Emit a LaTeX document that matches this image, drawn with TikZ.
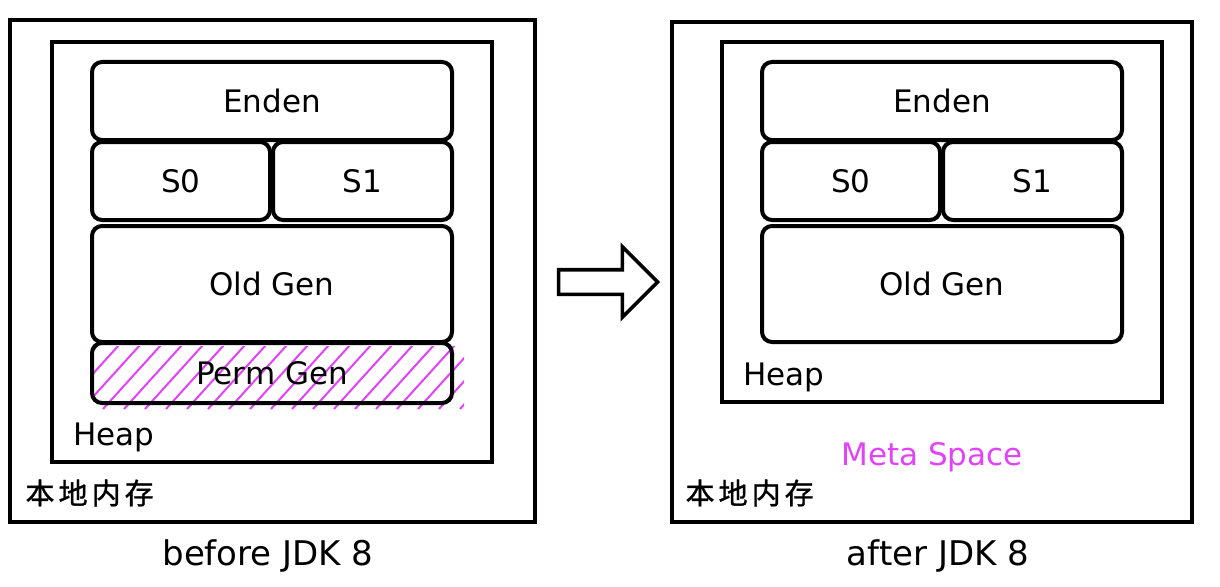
\documentclass[tikz,border=0pt]{standalone}
\usepackage{fontspec}
\setmainfont{DejaVu Sans}
\newfontfamily\cjk[LetterSpace=14, FakeBold=1.2]{Noto Sans CJK SC}
\usepackage{tikz}
\usetikzlibrary{arrows.meta, positioning, shapes.arrows}
\definecolor{metapink}{RGB}{226,66,250}
\tikzstyle{memory} = [rectangle, draw=black, line width=3.6pt, inner sep=0pt]
\tikzstyle{heap} = [rectangle, draw=black, line width=3.2pt, inner sep=0pt]
\tikzstyle{block} = [rectangle, rounded corners=10pt, draw=black, line width=4pt, inner sep=0pt, text centered]
\tikzstyle{hatch} = [metapink, line width=2pt]
\tikzstyle{caption} = [font={\fontsize{34pt}{38pt}\selectfont}]
\tikzset{
  font={\fontsize{31pt}{35pt}\selectfont}}

\begin{document}
\begin{tikzpicture}[x=1pt, y=-1pt]
    \useasboundingbox (0,0) rectangle (1220,586);
    % before JDK 8
    \node (nativeL) [memory, minimum width=525pt, minimum height=502pt] at (272.5,271) {};
    \node (heapL) [heap, minimum width=440pt, minimum height=420pt] at (272,252) {};
    \begin{scope}
        \clip (94,346) rectangle (464,409);
        \foreach \x in {40,61,...,470}
            \draw [hatch] (\x,409) -- ++(58,-64);
    \end{scope}
    \node (permL) [block, minimum width=360pt, minimum height=60pt] at (272,373) {Perm Gen};
    \node (endenL) [block, minimum width=360pt, minimum height=78pt] at (272,101) {Enden};
    \node (szeroL) [block, minimum width=178pt, minimum height=78pt] at (181,181) {S0};
    \node (soneL) [block, minimum width=179pt, minimum height=78pt] at (362.5,181) {S1};
    \node (oldL) [block, minimum width=360pt, minimum height=116pt] at (272,284) {Old Gen};
    \node (heaptxtL) [anchor=west] at (70,437) {Heap};
    \node (localL) [anchor=west] at (22,493) {\cjk\fontsize{29pt}{33pt}\selectfont 本地内存};
    \node (capL) [caption] at (268,556) {before JDK 8};

    % the move
    \node (shift) [single arrow, draw=black, line width=3.6pt, minimum height=99pt, minimum width=68pt,
        inner ysep=10.5pt, inner xsep=0pt, single arrow head extend=23pt] at (602,282) {};

    % after JDK 8
    \node (nativeR) [memory, minimum width=520pt, minimum height=500pt] at (932,272) {};
    \node (heapR) [heap, minimum width=440pt, minimum height=360pt] at (942,222) {};
    \node (endenR) [block, minimum width=360pt, minimum height=78pt] at (942,101) {Enden};
    \node (szeroR) [block, minimum width=178pt, minimum height=78pt] at (851,181) {S0};
    \node (soneR) [block, minimum width=179pt, minimum height=78pt] at (1032.5,181) {S1};
    \node (oldR) [block, minimum width=360pt, minimum height=116pt] at (942,284) {Old Gen};
    \node (heaptxtR) [anchor=west] at (740,377) {Heap};
    \node (meta) [text=metapink] at (932,457) {Meta Space};
    \node (localR) [anchor=west] at (682,493) {\cjk\fontsize{29pt}{33pt}\selectfont 本地内存};
    \node (capR) [caption] at (938,556) {after JDK 8};
\end{tikzpicture}
\end{document}
